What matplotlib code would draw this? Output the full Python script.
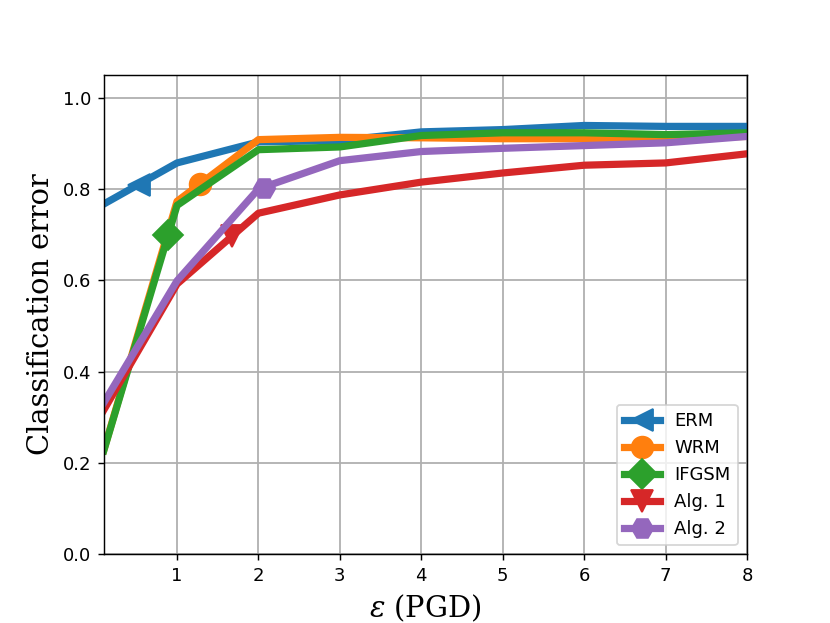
import matplotlib
matplotlib.use("Agg")
import matplotlib.pyplot as plt

plt.rcParams["mathtext.fontset"] = "dejavuserif"

eps = [0.1, 1, 2, 3, 4, 5, 6, 7, 8]
erm = [0.767, 0.857, 0.903, 0.906, 0.925, 0.930, 0.939, 0.937, 0.937]
wrm = [0.228, 0.773, 0.908, 0.913, 0.912, 0.910, 0.910, 0.912, 0.915]
ifgsm = [0.227, 0.764, 0.886, 0.892, 0.917, 0.923, 0.923, 0.919, 0.923]
alg1 = [0.316, 0.592, 0.747, 0.787, 0.815, 0.835, 0.852, 0.857, 0.877]
alg2 = [0.332, 0.599, 0.800, 0.862, 0.882, 0.889, 0.895, 0.901, 0.915]

labels = ["ERM", "WRM", "IFGSM", "Alg. 1", "Alg. 2"]
marker_x = [0.53, 1.28, 0.89, 1.68, 2.07]
marker_y = [0.808, 0.811, 0.700, 0.697, 0.802]

series = [erm, wrm, ifgsm, alg1, alg2]
colors = ["#1f77b4", "#ff7f0e", "#2ca02c", "#d62728", "#9467bd"]
markers = ["<", "o", "D", "v", "H"]

fig, ax = plt.subplots(figsize=(830 / 130, 623 / 130), dpi=130)
for ys, lab, c, m, mx, my in zip(series, labels, colors, markers, marker_x, marker_y):
    ax.plot(eps, ys, color=c, lw=4)
    ax.plot([mx], [my], color=c, marker=m, markersize=12, linestyle="none")

handles = []
for lab, c, m in zip(labels, colors, markers):
    h, = ax.plot([], [], color=c, lw=4, marker=m, markersize=12, label=lab)
    handles.append(h)

ax.set_xlim(0.1, 8)
ax.set_ylim(0, 1.05)
ax.set_xticks([1, 2, 3, 4, 5, 6, 7, 8])
ax.set_yticks([0.0, 0.2, 0.4, 0.6, 0.8, 1.0])
ax.grid(True, color="#b0b0b0", lw=1.0)
ax.set_axisbelow(True)
ax.set_xlabel(r"$\epsilon$ (PGD)", family="DejaVu Serif", fontsize=16)
ax.set_ylabel("Classification error", family="DejaVu Serif", fontsize=16)
ax.legend(handles=handles, loc="lower right")
fig.savefig("out.png", dpi=130)
